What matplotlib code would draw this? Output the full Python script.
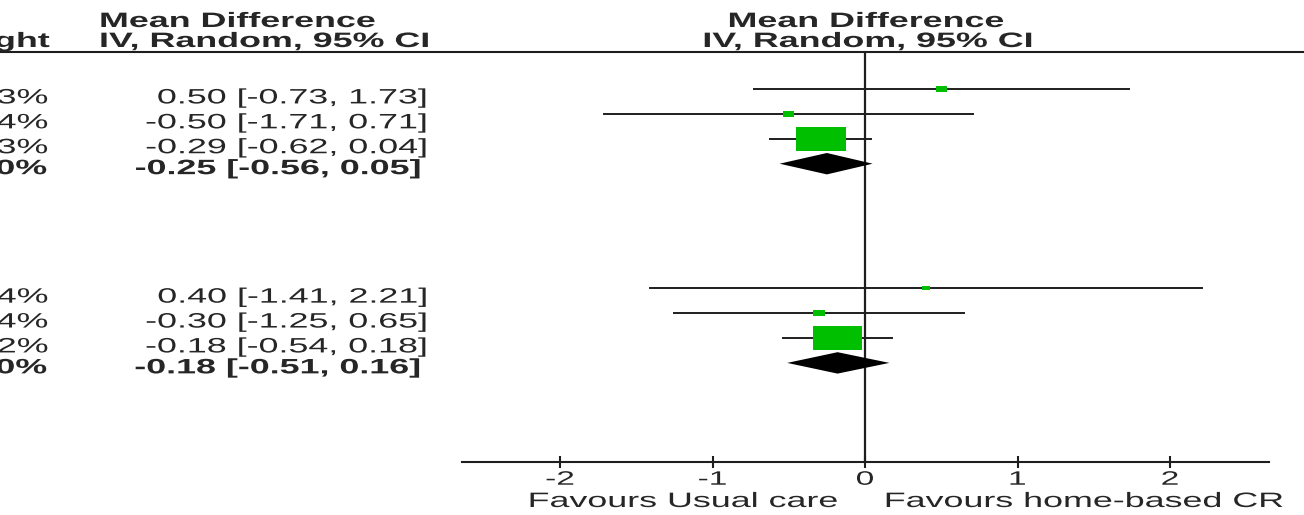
import numpy as np
import matplotlib
matplotlib.use('Agg')
import matplotlib.pyplot as plt
import matplotlib.patheffects as pe
from matplotlib.patches import Rectangle, Polygon
from matplotlib.transforms import Affine2D, blended_transform_factory
from matplotlib.lines import Line2D

# subgroup 1
md1 = [0.50, -0.50, -0.29]
lo1 = [-0.73, -1.71, -0.62]
hi1 = [1.73, 0.71, 0.04]
w1 = [4.3, 4.4, 91.3]
tot1 = [-0.25, -0.56, 0.05]

# subgroup 2
md2 = [0.40, -0.30, -0.18]
lo2 = [-1.41, -1.25, -0.54]
hi2 = [2.21, 0.65, 0.18]
w2 = [2.4, 5.4, 92.2]
tot2 = [-0.18, -0.51, 0.16]

xticks = [-2, -1, 0, 1, 2]
xticklabels = ['-2', '-1', '0', '1', '2']
header1 = 'Mean Difference'
header2 = 'IV, Random, 95% CI'
fav_left = 'Favours Usual care'
fav_right = 'Favours home-based CR'

plt.rcParams['font.family'] = ['Liberation Sans', 'DejaVu Sans']
TXT = '#262626'
LN = '#1e1e1e'
GREEN = '#00bf00'
W, H = 1304, 515


class Stretch(pe.AbstractPathEffect):
    # the source picture is stretched sideways, so widen the glyphs
    def __init__(self, sx=1.72, where='right'):
        super().__init__()
        self.sx = sx
        self.where = where

    def draw_path(self, renderer, gc, tpath, affine, rgbFace=None):
        ext = tpath.get_extents()
        px = {'left': ext.x0, 'right': ext.x1, 'center': (ext.x0 + ext.x1) / 2}[self.where]
        t = Affine2D().translate(-px, 0).scale(self.sx, 1).translate(px, 0) + affine
        renderer.draw_path(gc, tpath, t, rgbFace)


def st(where):
    return [Stretch(1.72, where)]


fig = plt.figure(figsize=(W / 100, H / 100), dpi=100)
ax = fig.add_axes([462 / W, 1 - 462 / H, (1269 - 462) / W, (462 - 52) / H])
ax.set_xlim((462 - 865) / 152.5, (1269 - 865) / 152.5)
ax.set_ylim((462 - 89) / 24.9, (52 - 89) / 24.9)
for s in ['top', 'left', 'right']:
    ax.spines[s].set_visible(False)
ax.spines['bottom'].set_linewidth(1.5)
ax.spines['bottom'].set_color(LN)
ax.set_yticks([])
ax.set_xticks(xticks, xticklabels)
ax.tick_params(axis='x', direction='inout', length=9, width=1.5, colors=LN,
               labelsize=14, labelcolor=TXT, pad=2.5)
for lbl in ax.get_xticklabels():
    lbl.set_path_effects(st('center'))

ax.axvline(0, color=LN, lw=1.6, zorder=1)

tl = blended_transform_factory(fig.transFigure, ax.transData)
tr = blended_transform_factory(ax.transData, fig.transFigure)

groups = [(0, md1, lo1, hi1, w1, tot1), (8, md2, lo2, hi2, w2, tot2)]
for start, md, lo, hi, w, tot in groups:
    for i in range(len(md)):
        r = start + i
        ax.plot([lo[i], hi[i]], [r, r], color=LN, lw=1.4, zorder=2)
        k = np.sqrt(w[i] / 100)
        ax.add_patch(Rectangle((md[i] - 0.17 * k, r - 0.51 * k), 0.34 * k, 1.02 * k,
                               color=GREEN, lw=0, zorder=3))
        ax.text(48 / W, r + 0.58, f'{w[i]:.1f}%', transform=tl, ha='right', va='baseline',
                fontsize=15, color=TXT, path_effects=st('right'))
        ax.text(427 / W, r + 0.58, f'{md[i]:.2f} [{lo[i]:.2f}, {hi[i]:.2f}]', transform=tl,
                ha='right', va='baseline', fontsize=15, color=TXT, path_effects=st('right'))
    r = start + len(md)
    m, l, h = tot
    ax.add_patch(Polygon([(l, r), (m, r - 0.43), (h, r), (m, r + 0.43)],
                         closed=True, color='black', lw=0, zorder=3))
    ax.text(47 / W, r + 0.42, '100.0%', transform=tl, ha='right', va='baseline',
            fontsize=15, fontweight='bold', color=TXT, path_effects=st('right'))
    ax.text(421 / W, r + 0.42, f'{m:.2f} [{l:.2f}, {h:.2f}]', transform=tl,
            ha='right', va='baseline', fontsize=15, fontweight='bold', color=TXT,
            path_effects=st('right'))

# header
fig.add_artist(Line2D([0, 1], [1 - 52 / H, 1 - 52 / H], color=LN, lw=1.5,
                      transform=fig.transFigure))
fig.text(100 / W, 1 - 27 / H, header1, ha='left', va='baseline', fontsize=15,
         fontweight='bold', color=TXT, path_effects=st('left'))
fig.text(100 / W, 1 - 47 / H, header2, ha='left', va='baseline', fontsize=15,
         fontweight='bold', color=TXT, path_effects=st('left'))
fig.text(50 / W, 1 - 47 / H, 'Weight', ha='right', va='baseline', fontsize=15,
         fontweight='bold', color=TXT, path_effects=st('right'))
ax.text(0.01, 1 - 27 / H, header1, transform=tr, ha='center', va='baseline', fontsize=15,
        fontweight='bold', color=TXT, path_effects=st('center'))
ax.text(0.02, 1 - 47 / H, header2, transform=tr, ha='center', va='baseline', fontsize=15,
        fontweight='bold', color=TXT, path_effects=st('center'))

# favours labels
fig.text(838 / W, 1 - 507 / H, fav_left, ha='right', va='baseline', fontsize=15,
         color=TXT, path_effects=st('right'))
fig.text(885 / W, 1 - 507 / H, fav_right, ha='left', va='baseline', fontsize=15,
         color=TXT, path_effects=st('left'))

fig.savefig('out.png', dpi=100)
